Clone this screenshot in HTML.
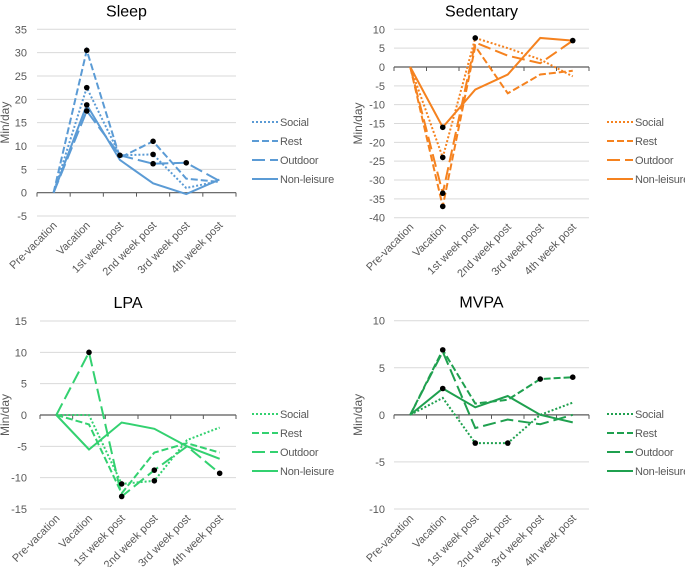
<!DOCTYPE html>
<html><head><meta charset="utf-8"><style>
body{margin:0;background:#fff;}
svg{display:block;font-family:"Liberation Sans",sans-serif;}
</style></head><body>
<svg id="c" width="685" height="567"></svg>
<script>
const categories=["Pre-vacation","Vacation","1st week post","2nd week post","3rd week post","4th week post"];
const seriesNames=["Social","Rest","Outdoor","Non-leisure"];
const sleepSocial=[0,22.5,8,8.2,1,2.5];
const sleepRest=[0,30.5,7.5,11,3,2.3];
const sleepOutdoor=[0,17.5,8,6.2,6.4,2.5];
const sleepNonLeisure=[0,18.8,7,2,-0.3,2.8];
const sleepDots=[[0,1,0,1,0,0],[0,1,0,1,0,0],[0,1,1,1,1,0],[0,1,0,0,0,0]];
const sedSocial=[0,-24,7.7,5,2,-2.5];
const sedRest=[0,-37,5.5,-7,-2,-1];
const sedOutdoor=[0,-33.5,6.5,3,1,7];
const sedNonLeisure=[0,-16,-6,-2,7.7,7];
const sedDots=[[0,1,1,0,0,0],[0,1,0,0,0,0],[0,1,0,0,0,1],[0,1,0,0,0,0]];
const lpaSocial=[0,0,-11,-10.5,-4,-2];
const lpaRest=[0,-1.5,-12.5,-6,-4.5,-6];
const lpaOutdoor=[0,10,-13,-8.8,-5,-9.3];
const lpaNonLeisure=[0,-5.5,-1.2,-2.2,-5,-7];
const lpaDots=[[0,0,1,1,0,0],[0,0,0,0,0,0],[0,1,1,1,0,1],[0,0,0,0,0,0]];
const mvpaSocial=[0,1.8,-3,-3,0,1.3];
const mvpaRest=[0,6.9,1.2,1.6,3.8,4];
const mvpaOutdoor=[0,6.7,-1.4,-0.5,-1,0];
const mvpaNonLeisure=[0,2.8,0.8,2,0,-0.8];
const mvpaDots=[[0,0,1,1,0,0],[0,1,0,0,1,1],[0,0,0,0,0,0],[0,1,0,0,0,0]];
const sleepTicks=[35,30,25,20,15,10,5,0,-5];
const sedTicks=[10,5,0,-5,-10,-15,-20,-25,-30,-35,-40];
const lpaTicks=[15,10,5,0,-5,-10,-15];
const mvpaTicks=[10,5,0,-5,-10];

const NS="http://www.w3.org/2000/svg";
const svg=document.getElementById('c');
function mk(tag,attrs,parent){const e=document.createElementNS(NS,tag);for(const k in attrs)e.setAttribute(k,attrs[k]);(parent||svg).appendChild(e);return e;}
const dashes=["2 2","7 3","13 5",""];

function panel(o){
  const g=mk('g',{});
  
  
  const ymax=o.ticks[0],ymin=o.ticks[o.ticks.length-1];
  const y=v=>o.yTop+(ymax-v)/(ymax-ymin)*(o.yBot-o.yTop);
  const slot=(o.x1-o.x0)/categories.length;
  const x=i=>o.x0+slot*(i+0.5);
  const t=mk('text',{x:(o.x0+o.x1)/2-10,y:o.yTop-13,'text-anchor':'middle','font-size':16,fill:'#000'},g);
  t.textContent=o.title;
  
  
  o.ticks.forEach(v=>{
    if(v!==0){const l=mk('line',{x1:o.x0,x2:o.x1,y1:y(v),y2:y(v),stroke:'#d9d9d9','stroke-width':1},g);
    }
    const tl=mk('text',{x:o.labX,y:y(v)+4,'text-anchor':'end','font-size':11,fill:'#595959'},g);
    tl.textContent=v;
    
    
  });
  const yt=mk('text',{x:0,y:0,'text-anchor':'middle','font-size':12,fill:'#595959',transform:`translate(${o.ytX},${(o.yTop+o.yBot)/2}) rotate(-90)`},g);
  yt.textContent="Min/day";
  
  
  const ax=mk('line',{x1:o.x0,x2:o.x1,y1:y(0),y2:y(0),stroke:'#595959','stroke-width':1.2},g);
  
  for(let i=0;i<=categories.length;i++){
    const tk=mk('line',{x1:o.x0+slot*i,x2:o.x0+slot*i,y1:y(0),y2:y(0)+4,stroke:'#595959','stroke-width':1},g);
    
  }
  categories.forEach((c,i)=>{
    const cx=x(i)+4,cy=o.yBot+10;
    const tl=mk('text',{x:cx,y:cy,'text-anchor':'end','font-size':11,fill:'#595959',transform:`rotate(-45 ${cx} ${cy})`},g);
    tl.textContent=c;
    
    
  });
  o.series.forEach((s,si)=>{
    const p=mk('polyline',{points:s.map((v,i)=>x(i)+','+y(v)).join(' '),fill:'none',stroke:o.color,'stroke-width':2,'stroke-dasharray':dashes[si]},g);
    
    
  });
  o.series.forEach((s,si)=>{
    s.forEach((v,i)=>{if(o.dots[si][i]){
      const d=mk('circle',{cx:x(i),cy:y(v),r:2.8,fill:'#000'},g);
      
      
    }});
  });
  seriesNames.forEach((n,si)=>{
    const ly=o.legY+si*19;
    const l=mk('line',{x1:o.legX,x2:o.legX+26,y1:ly,y2:ly,stroke:o.color,'stroke-width':2,'stroke-dasharray':dashes[si]},g);
    
    const lt=mk('text',{x:o.legX+28,y:ly+4,'font-size':11,fill:'#595959','letter-spacing':'-0.2'},g);
    lt.textContent=n;
    
    
  });
}
panel({id:'sleep',title:'Sleep',x0:37,x1:236,yTop:29.3,yBot:216,labX:27,ytX:9,ticks:sleepTicks,color:'#5b9bd5',
  series:[sleepSocial,sleepRest,sleepOutdoor,sleepNonLeisure],dots:sleepDots,legX:252,legY:122});
panel({id:'sedentary',title:'Sedentary',x0:394,x1:589,yTop:29.3,yBot:217.7,labX:385,ytX:362,ticks:sedTicks,color:'#f5821f',
  series:[sedSocial,sedRest,sedOutdoor,sedNonLeisure],dots:sedDots,legX:607,legY:122});
panel({id:'lpa',title:'LPA',x0:40,x1:236,yTop:321,yBot:509,labX:27,ytX:9,ticks:lpaTicks,color:'#33d170',
  series:[lpaSocial,lpaRest,lpaOutdoor,lpaNonLeisure],dots:lpaDots,legX:252,legY:414});
panel({id:'mvpa',title:'MVPA',x0:394,x1:589,yTop:320.7,yBot:509,labX:385,ytX:362,ticks:mvpaTicks,color:'#1fa04f',
  series:[mvpaSocial,mvpaRest,mvpaOutdoor,mvpaNonLeisure],dots:mvpaDots,legX:607,legY:414});
</script>
</body></html>
